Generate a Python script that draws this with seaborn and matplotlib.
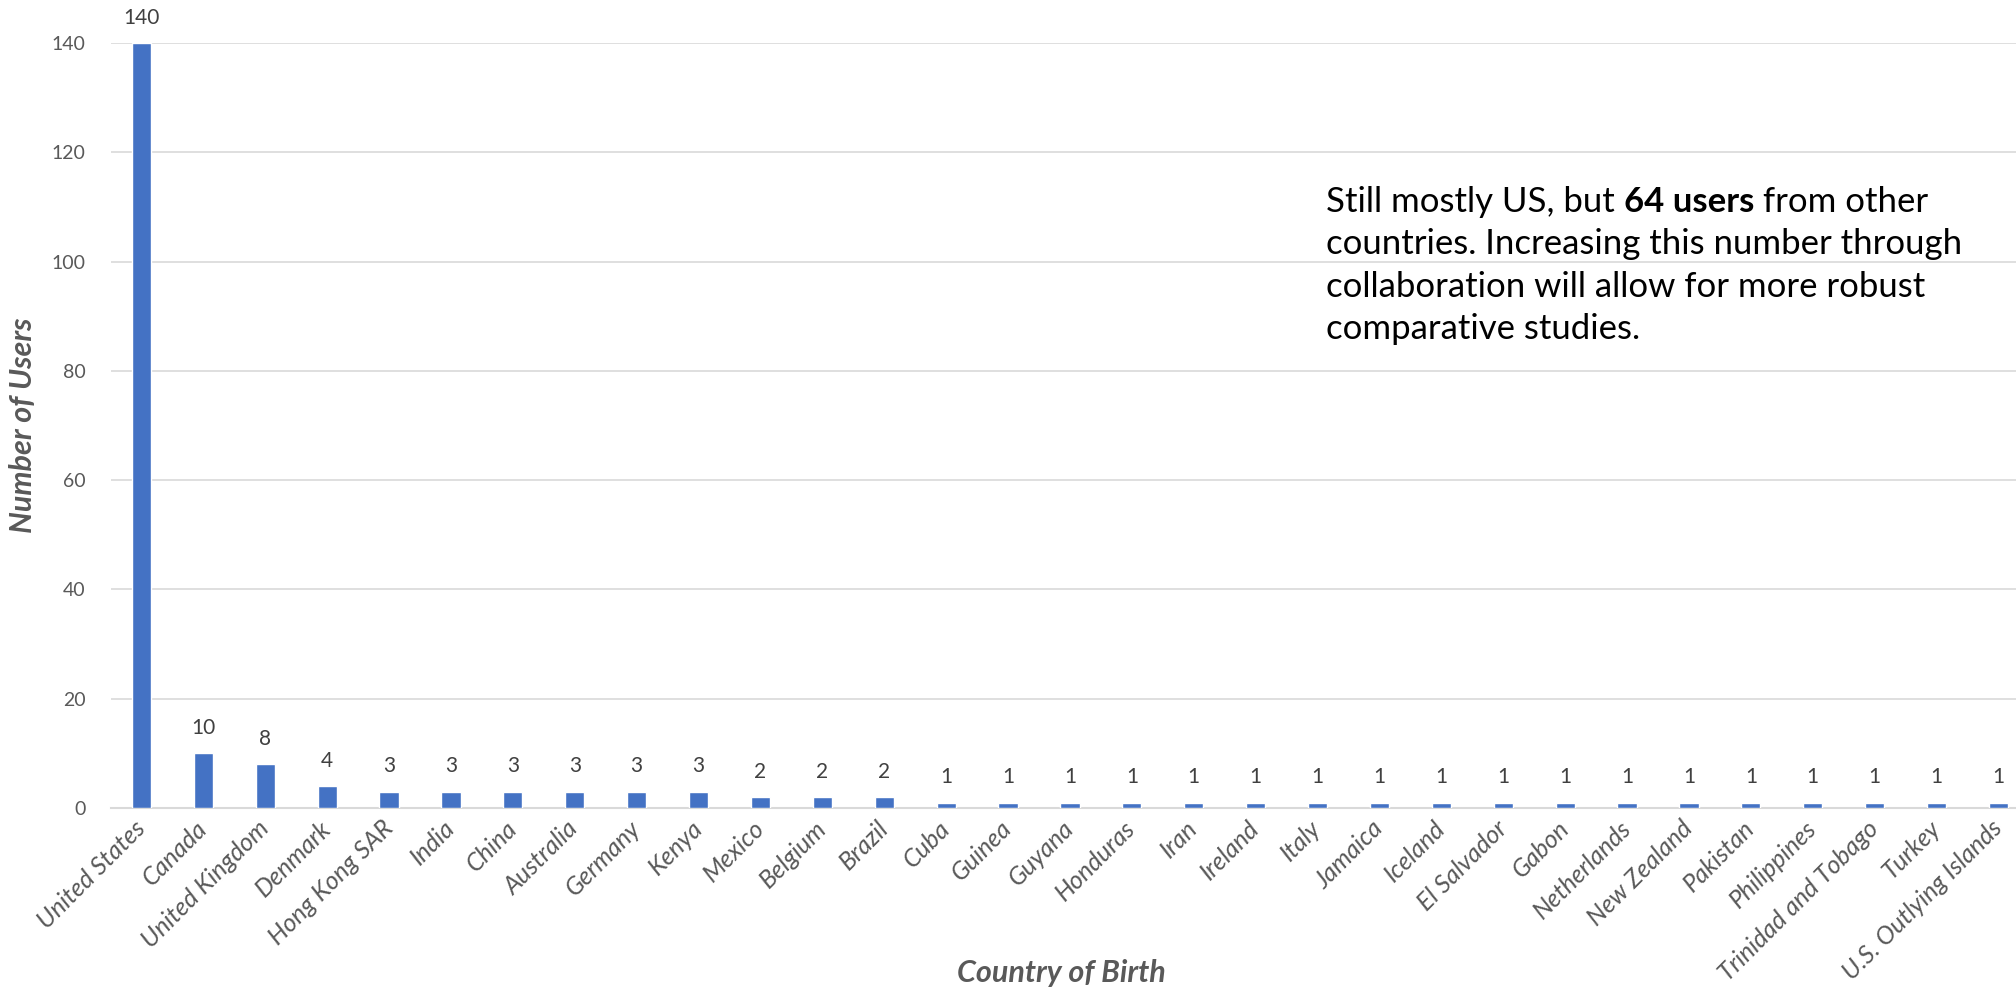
import matplotlib
matplotlib.use("Agg")
import matplotlib.pyplot as plt
import seaborn as sns
import pandas as pd

# chart data
countries = ["United States", "Canada", "United Kingdom", "Denmark", "Hong Kong SAR",
             "India", "China", "Australia", "Germany", "Kenya", "Mexico", "Belgium",
             "Brazil", "Cuba", "Guinea", "Guyana", "Honduras", "Iran", "Ireland", "Italy",
             "Jamaica", "Iceland", "El Salvador", "Gabon", "Netherlands", "New Zealand",
             "Pakistan", "Philippines", "Trinidad and Tobago", "Turkey",
             "U.S. Outlying Islands"]
users = [140, 10, 8, 4, 3, 3, 3, 3, 3, 3, 2, 2, 2, 1, 1, 1, 1, 1, 1, 1, 1, 1, 1, 1, 1,
         1, 1, 1, 1, 1, 1]
y_ticks = [0, 20, 40, 60, 80, 100, 120, 140]

df = pd.DataFrame({"country": countries, "users": users})

bar_clr = "#4472C4"
txt_clr = "#595959"
grid_clr = "#d9d9d9"

sns.set_style("white")
plt.rcParams["font.family"] = ["Lato", "DejaVu Sans"]

W, H = 2016, 990
fig = plt.figure(figsize=(W / 100, H / 100), dpi=100)
# plot area: slot width ~62px, last slot runs past the right edge
n = len(countries)
left, right = 110.5, 110.5 + 61.9 * n
bottom, top = 808, 43
ax = fig.add_axes([left / W, 1 - bottom / H, (right - left) / W, (bottom - top) / H])

sns.barplot(data=df, x="country", y="users", color=bar_clr, width=0.31,
            saturation=1, ax=ax, zorder=3)
ax.bar_label(ax.containers[0], padding=11, fontsize=15, color="#404040")

ax.set_xlim(-0.5, n - 0.5)
ax.set_ylim(0, 140)
ax.set_yticks(y_ticks)
ax.yaxis.grid(True, color=grid_clr, lw=1.2, zorder=0)
for s in ["top", "right", "left"]:
    ax.spines[s].set_visible(False)
ax.spines["bottom"].set_color(grid_clr)
ax.spines["bottom"].set_linewidth(1.5)
ax.tick_params(axis="y", length=0, pad=18, labelsize=14, labelcolor=txt_clr)
ax.tick_params(axis="x", length=0, pad=12, labelsize=18, labelcolor=txt_clr)
plt.setp(ax.get_xticklabels(), rotation=45, ha="right", va="center",
         rotation_mode="anchor", style="italic")

ax.set_ylabel("")
ax.set_xlabel("")
fig.text(23 / W, 1 - 425 / H, "Number of Users", fontsize=22, fontweight="bold",
         style="italic", color=txt_clr, ha="center", va="center", rotation=90)
fig.text(1061 / W, 1 - 973 / H, "Country of Birth", fontsize=22, fontweight="bold",
         style="italic", color=txt_clr, ha="center", va="center")

# annotation with bold part
fs = 25
x0, y0 = 1326 / W, 1 - 202 / H
t1 = fig.text(x0, y0, "Still mostly US, but ", fontsize=fs, color="black", va="center")
t2 = ax.annotate("64 users", xy=(1, 0), xycoords=t1, fontsize=fs, fontweight="bold",
                 color="black", va="bottom")
t3 = ax.annotate(" from other", xy=(1, 0), xycoords=t2, fontsize=fs, color="black",
                 va="bottom")
rest = ["countries. Increasing this number through",
        "collaboration will allow for more robust",
        "comparative studies."]
for i, line in enumerate(rest):
    fig.text(x0, y0 - (i + 1) * 42.4 / H, line, fontsize=fs, color="black", va="center")

fig.savefig("out.png", dpi=100)
